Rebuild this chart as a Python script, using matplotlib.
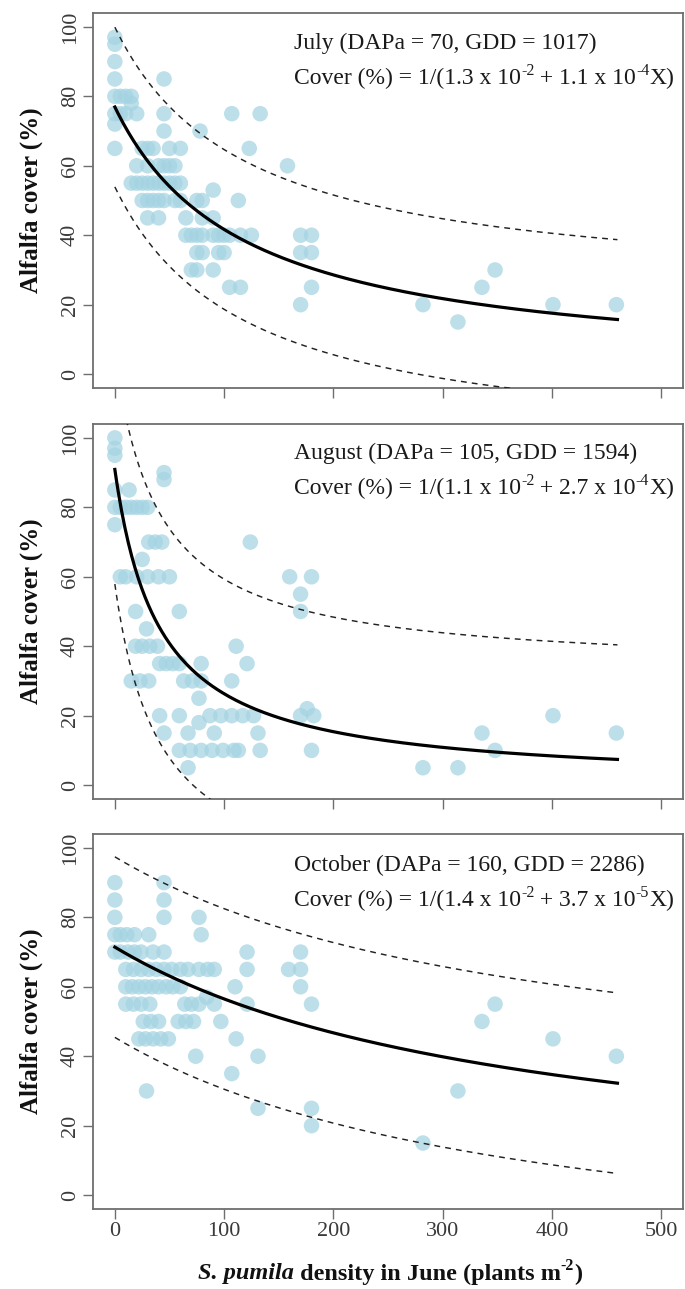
import numpy as np
import matplotlib
matplotlib.use("Agg")
import matplotlib.pyplot as plt

plt.rcParams['font.family'] = ['Liberation Serif', 'DejaVu Serif']

# ---------------- data ----------------
months = ["July", "August", "October"]
titles = ["July (DAPa = 70, GDD = 1017)",
          "August (DAPa = 105, GDD = 1594)",
          "October (DAPa = 160, GDD = 2286)"]
coef_a = [1.3e-2, 1.1e-2, 1.4e-2]
coef_b = [1.1e-4, 2.7e-4, 3.7e-5]
coef_a_txt = ["1.3", "1.1", "1.4"]
coef_a_exp = ["-2", "-2", "-2"]
coef_b_txt = ["1.1", "2.7", "3.7"]
coef_b_exp = ["-4", "-4", "-5"]
band_halfwidth = [23, 33, 26]
x_max_fit = 460

july_x = [0, 0, 0, 0, 0, 0, 0, 0, 5, 5, 10, 10, 15, 15, 15, 20, 20, 20,
          25, 25, 25, 30, 30, 30, 30, 30, 35, 35, 35, 40, 40, 40, 40,
          45, 45, 45, 45, 45, 45, 50, 50, 50, 55, 55, 55, 60, 60, 60,
          65, 65, 70, 70, 75, 75, 75, 75, 78, 80, 80, 80, 80,
          90, 90, 90, 90, 95, 95, 100, 100, 105, 105, 107, 113, 115, 115,
          123, 125, 133, 158, 170, 170, 170, 180, 180, 180,
          282, 314, 336, 348, 401, 459]
july_y = [97, 95, 90, 85, 80, 75, 72, 65, 80, 75, 80, 75, 80, 78, 55, 60, 55, 75,
          65, 55, 50, 65, 60, 55, 50, 45, 65, 55, 50, 60, 55, 50, 45,
          85, 75, 70, 60, 55, 50, 65, 60, 55, 60, 55, 50, 65, 55, 50,
          45, 40, 40, 30, 50, 40, 35, 30, 70, 50, 45, 40, 35,
          53, 45, 40, 30, 40, 35, 40, 35, 40, 25, 75, 50, 40, 25,
          65, 40, 75, 60, 40, 35, 20, 40, 35, 25,
          20, 15, 25, 30, 20, 20]

aug_x = [0, 0, 0, 0, 0, 0, 5, 10, 13, 15, 20, 25, 30, 45, 45,
         5, 10, 20, 30, 40, 50, 25, 31, 37, 43, 124,
         19, 59, 29, 19, 25, 32, 39, 111,
         41, 47, 53, 59, 79, 121, 15, 23, 31, 63, 71, 79, 107, 77,
         41, 59, 77, 87, 97, 107, 117, 127, 170, 176, 182,
         45, 67, 91, 131, 59, 69, 79, 89, 99, 109, 113, 133, 180, 67,
         160, 180, 170, 170, 401, 336, 459, 348, 282, 314]
aug_y = [100, 97, 95, 85, 80, 75, 80, 80, 85, 80, 80, 80, 80, 90, 88,
         60, 60, 60, 60, 60, 60, 65, 70, 70, 70, 70,
         50, 50, 45, 40, 40, 40, 40, 40,
         35, 35, 35, 35, 35, 35, 30, 30, 30, 30, 30, 30, 30, 25,
         20, 20, 18, 20, 20, 20, 20, 20, 20, 22, 20,
         15, 15, 15, 15, 10, 10, 10, 10, 10, 10, 10, 10, 10, 5,
         60, 60, 55, 50, 20, 15, 15, 10, 5, 5]

oct_x = [0, 0, 0, 0, 0, 5, 11, 18, 31, 45, 45, 45, 77, 79,
         5, 12, 18, 24, 35, 45, 121, 170,
         10, 17, 24, 31, 38, 45, 52, 60, 67, 77, 85, 91, 121, 159, 170,
         10, 16, 22, 28, 34, 40, 47, 53, 60, 110, 170,
         10, 17, 24, 32, 64, 70, 77, 84, 91, 121, 180,
         26, 33, 40, 58, 65, 72, 97,
         22, 28, 35, 42, 49, 111, 74, 131, 107, 29, 131, 180, 180,
         282, 314, 336, 348, 401, 459]
oct_y = [90, 85, 80, 75, 70, 75, 75, 75, 75, 90, 85, 80, 80, 75,
         70, 70, 70, 70, 70, 70, 70, 70,
         65, 65, 65, 65, 65, 65, 65, 65, 65, 65, 65, 65, 65, 65, 65,
         60, 60, 60, 60, 60, 60, 60, 60, 60, 60, 60,
         55, 55, 55, 55, 55, 55, 55, 57, 55, 55, 55,
         50, 50, 50, 50, 50, 50, 50,
         45, 45, 45, 45, 45, 45, 40, 40, 35, 30, 25, 25, 20,
         15, 30, 50, 55, 45, 40]

xs = [july_x, aug_x, oct_x]
ys = [july_y, aug_y, oct_y]

x_ticks = [0, 100, 200, 300, 400, 500]
y_ticks = [0, 20, 40, 60, 80, 100]

# ---------------- figure ----------------
W, H = 685, 1289
fig = plt.figure(figsize=(W / 100, H / 100), dpi=100)

left = 93 / W
width = 590 / W
bottoms_px = [388, 799, 1209]
height = 375 / H

spine_col = "#6e6e6e"
tick_col = "#3a3a3a"
pt_col = "#a4d3e2"
txt_col = "#1a1a1a"


def place_pieces(pieces, x_px, y_px, center=False, color=txt_col):
    """Lay out text pieces side by side in figure pixel coordinates.
    pieces: list of (string, fontsize, rise_px, extra_kwargs)"""
    fig.canvas.draw()
    r = fig.canvas.get_renderer()
    objs, widths = [], []
    for s, fs, rise, kw in pieces:
        t = fig.text(0, 0, s, fontsize=fs, va='center', ha='left',
                     color=color, **kw)
        widths.append(t.get_window_extent(renderer=r).width)
        objs.append(t)
    xcur = x_px - (sum(widths) / 2 if center else 0)
    for (s, fs, rise, kw), t, w in zip(pieces, objs, widths):
        t.set_position((xcur / W, 1 - (y_px - rise) / H))
        xcur += w


axes = []
for i in range(3):
    ax = fig.add_axes([left, 1 - bottoms_px[i] / H, width, height])
    axes.append(ax)
    ax.scatter(xs[i], ys[i], s=125, color=pt_col, alpha=0.72,
               edgecolors='none', zorder=2)
    xx = np.linspace(0, x_max_fit, 300)
    fit = 1.0 / (coef_a[i] + coef_b[i] * xx)
    ax.plot(xx, fit, color="black", lw=2.3, zorder=4)
    ax.plot(xx, fit + band_halfwidth[i], color="#222222", lw=1.05,
            ls=(0, (4, 3.5)), zorder=3)
    ax.plot(xx, fit - band_halfwidth[i], color="#222222", lw=1.05,
            ls=(0, (4, 3.5)), zorder=3)
    ax.set_xlim(-20, 520)
    ax.set_ylim(-4, 104)
    ax.set_xticks(x_ticks)
    ax.set_yticks(y_ticks)
    ax.set_yticklabels([str(v) for v in y_ticks], rotation=90,
                       va='center', fontsize=16, color=tick_col)
    if i == 2:
        ax.set_xticklabels([str(v) for v in x_ticks], fontsize=16,
                           color=tick_col)
    else:
        ax.set_xticklabels([])
    ax.tick_params(direction='out', length=7.5, width=1.0, color=spine_col)
    ax.tick_params(axis='x', pad=2)
    ax.tick_params(axis='y', pad=2)
    for sp in ax.spines.values():
        sp.set_color(spine_col)
        sp.set_linewidth(1.3)
    ax.set_ylabel("Alfalfa cover (%)", fontsize=18, fontweight='bold',
                  labelpad=13, color="#111111")

# annotation texts (title line + equation with superscripts)
fs_main, fs_sup = 17, 11.5
text_x_px = 294
line1_offsets = [43, 43 + 410, 43 + 822]
for i in range(3):
    y1 = line1_offsets[i]
    y2 = y1 + 35
    place_pieces([(titles[i], fs_main, 0, {})], text_x_px, y1)
    place_pieces([
        ("Cover (%) = 1/(" + coef_a_txt[i] + " x 10", fs_main, 0, {}),
        (coef_a_exp[i], fs_sup, 7, {}),
        (" + " + coef_b_txt[i] + " x 10", fs_main, 0, {}),
        (coef_b_exp[i], fs_sup, 7, {}),
        ("X)", fs_main, 0, {}),
    ], text_x_px, y2)

# x label assembled from pieces (bold italic species name)
place_pieces([
    ("S. pumila", 17.5, 0, dict(fontweight='bold', fontstyle='italic')),
    (" density in June (plants m", 17.5, 0, dict(fontweight='bold')),
    ("-2", 11.5, 8, dict(fontweight='bold')),
    (")", 17.5, 0, dict(fontweight='bold')),
], 390, 1274, center=True, color="#111111")

fig.savefig("out.png", dpi=100)
